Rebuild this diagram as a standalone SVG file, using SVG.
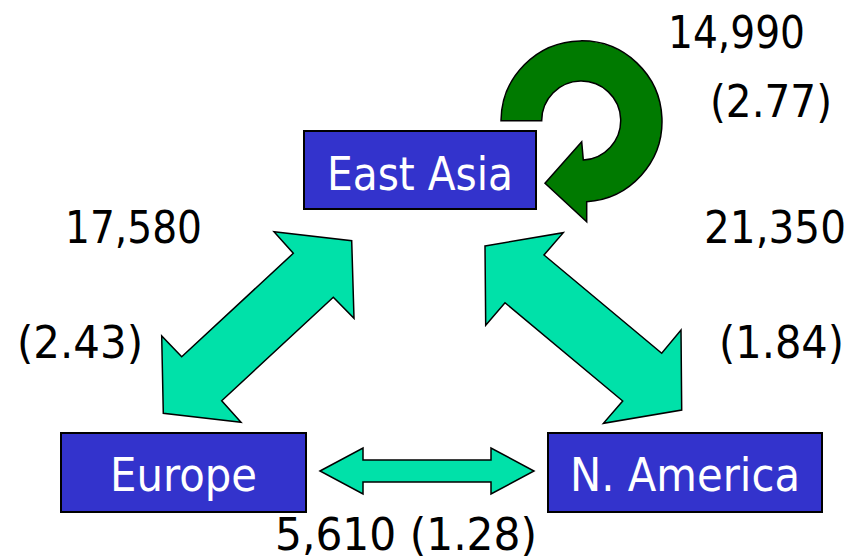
<svg xmlns="http://www.w3.org/2000/svg" width="852" height="560" viewBox="0 0 852 560">
<style>
.box{fill:#3333CC;stroke:#000;stroke-width:2}
.nt{font-family:"DejaVu Sans","Liberation Sans",sans-serif;font-size:46px;fill:#fff}
.lb{font-family:"DejaVu Sans","Liberation Sans",sans-serif;font-size:45px;fill:#000}
.arr{fill:#00E1A9;stroke:#000;stroke-width:1.5;stroke-linejoin:miter}
.loop{fill:#007A00;stroke:#000;stroke-width:1.5}
</style>
<rect width="852" height="560" fill="#fff"/>
<g id="connectors">
<path class="loop" d="M501,120.7 A80.5,80.5 0 1 1 586.7,201.7 L586.7,221.7 L545,183.3 L581.7,141.7 L583.3,160 A39.5,39.5 0 1 0 541.7,120.7 Z"/>
<polygon class="arr" points="351.7,240.7 354,318.3 333.3,297.3 221.7,400.7 241,422.3 163.3,413.3 161.7,336 181.7,356.7 293.3,253.3 274,231.7"/>
<polygon class="arr" points="485,246 563.3,232.7 544,255 661.7,353.3 681,330 681.7,410 603.4,423.3 622.7,401 505,302.7 485.7,325.3"/>
<polygon class="arr" points="320,471 363,448 363,460 491,460 491,448 534,471 491,494 491,482 363,482 363,494"/>
</g>
<g id="east-asia">
<rect class="box" x="304" y="131" width="232" height="78"/>
<text class="nt" x="327" y="190" textLength="186" lengthAdjust="spacingAndGlyphs">East Asia</text>
</g>
<g id="europe">
<rect class="box" x="61" y="433" width="245" height="79"/>
<text class="nt" x="110" y="491" textLength="147" lengthAdjust="spacingAndGlyphs">Europe</text>
</g>
<g id="n-america">
<rect class="box" x="548" y="433" width="274" height="79"/>
<text class="nt" x="570" y="491" textLength="230" lengthAdjust="spacingAndGlyphs">N. America</text>
</g>
<g id="labels">
<text class="lb" x="668" y="48" textLength="137" lengthAdjust="spacingAndGlyphs">14,990</text>
<text class="lb" x="710" y="117" textLength="122" lengthAdjust="spacingAndGlyphs">(2.77)</text>
<text class="lb" x="65" y="243" textLength="137" lengthAdjust="spacingAndGlyphs">17,580</text>
<text class="lb" x="704" y="243" textLength="142" lengthAdjust="spacingAndGlyphs">21,350</text>
<text class="lb" x="17" y="358" textLength="126" lengthAdjust="spacingAndGlyphs">(2.43)</text>
<text class="lb" x="719" y="358" textLength="125" lengthAdjust="spacingAndGlyphs">(1.84)</text>
<text class="lb" x="275" y="550" textLength="262" lengthAdjust="spacingAndGlyphs">5,610 (1.28)</text>
</g>
</svg>
